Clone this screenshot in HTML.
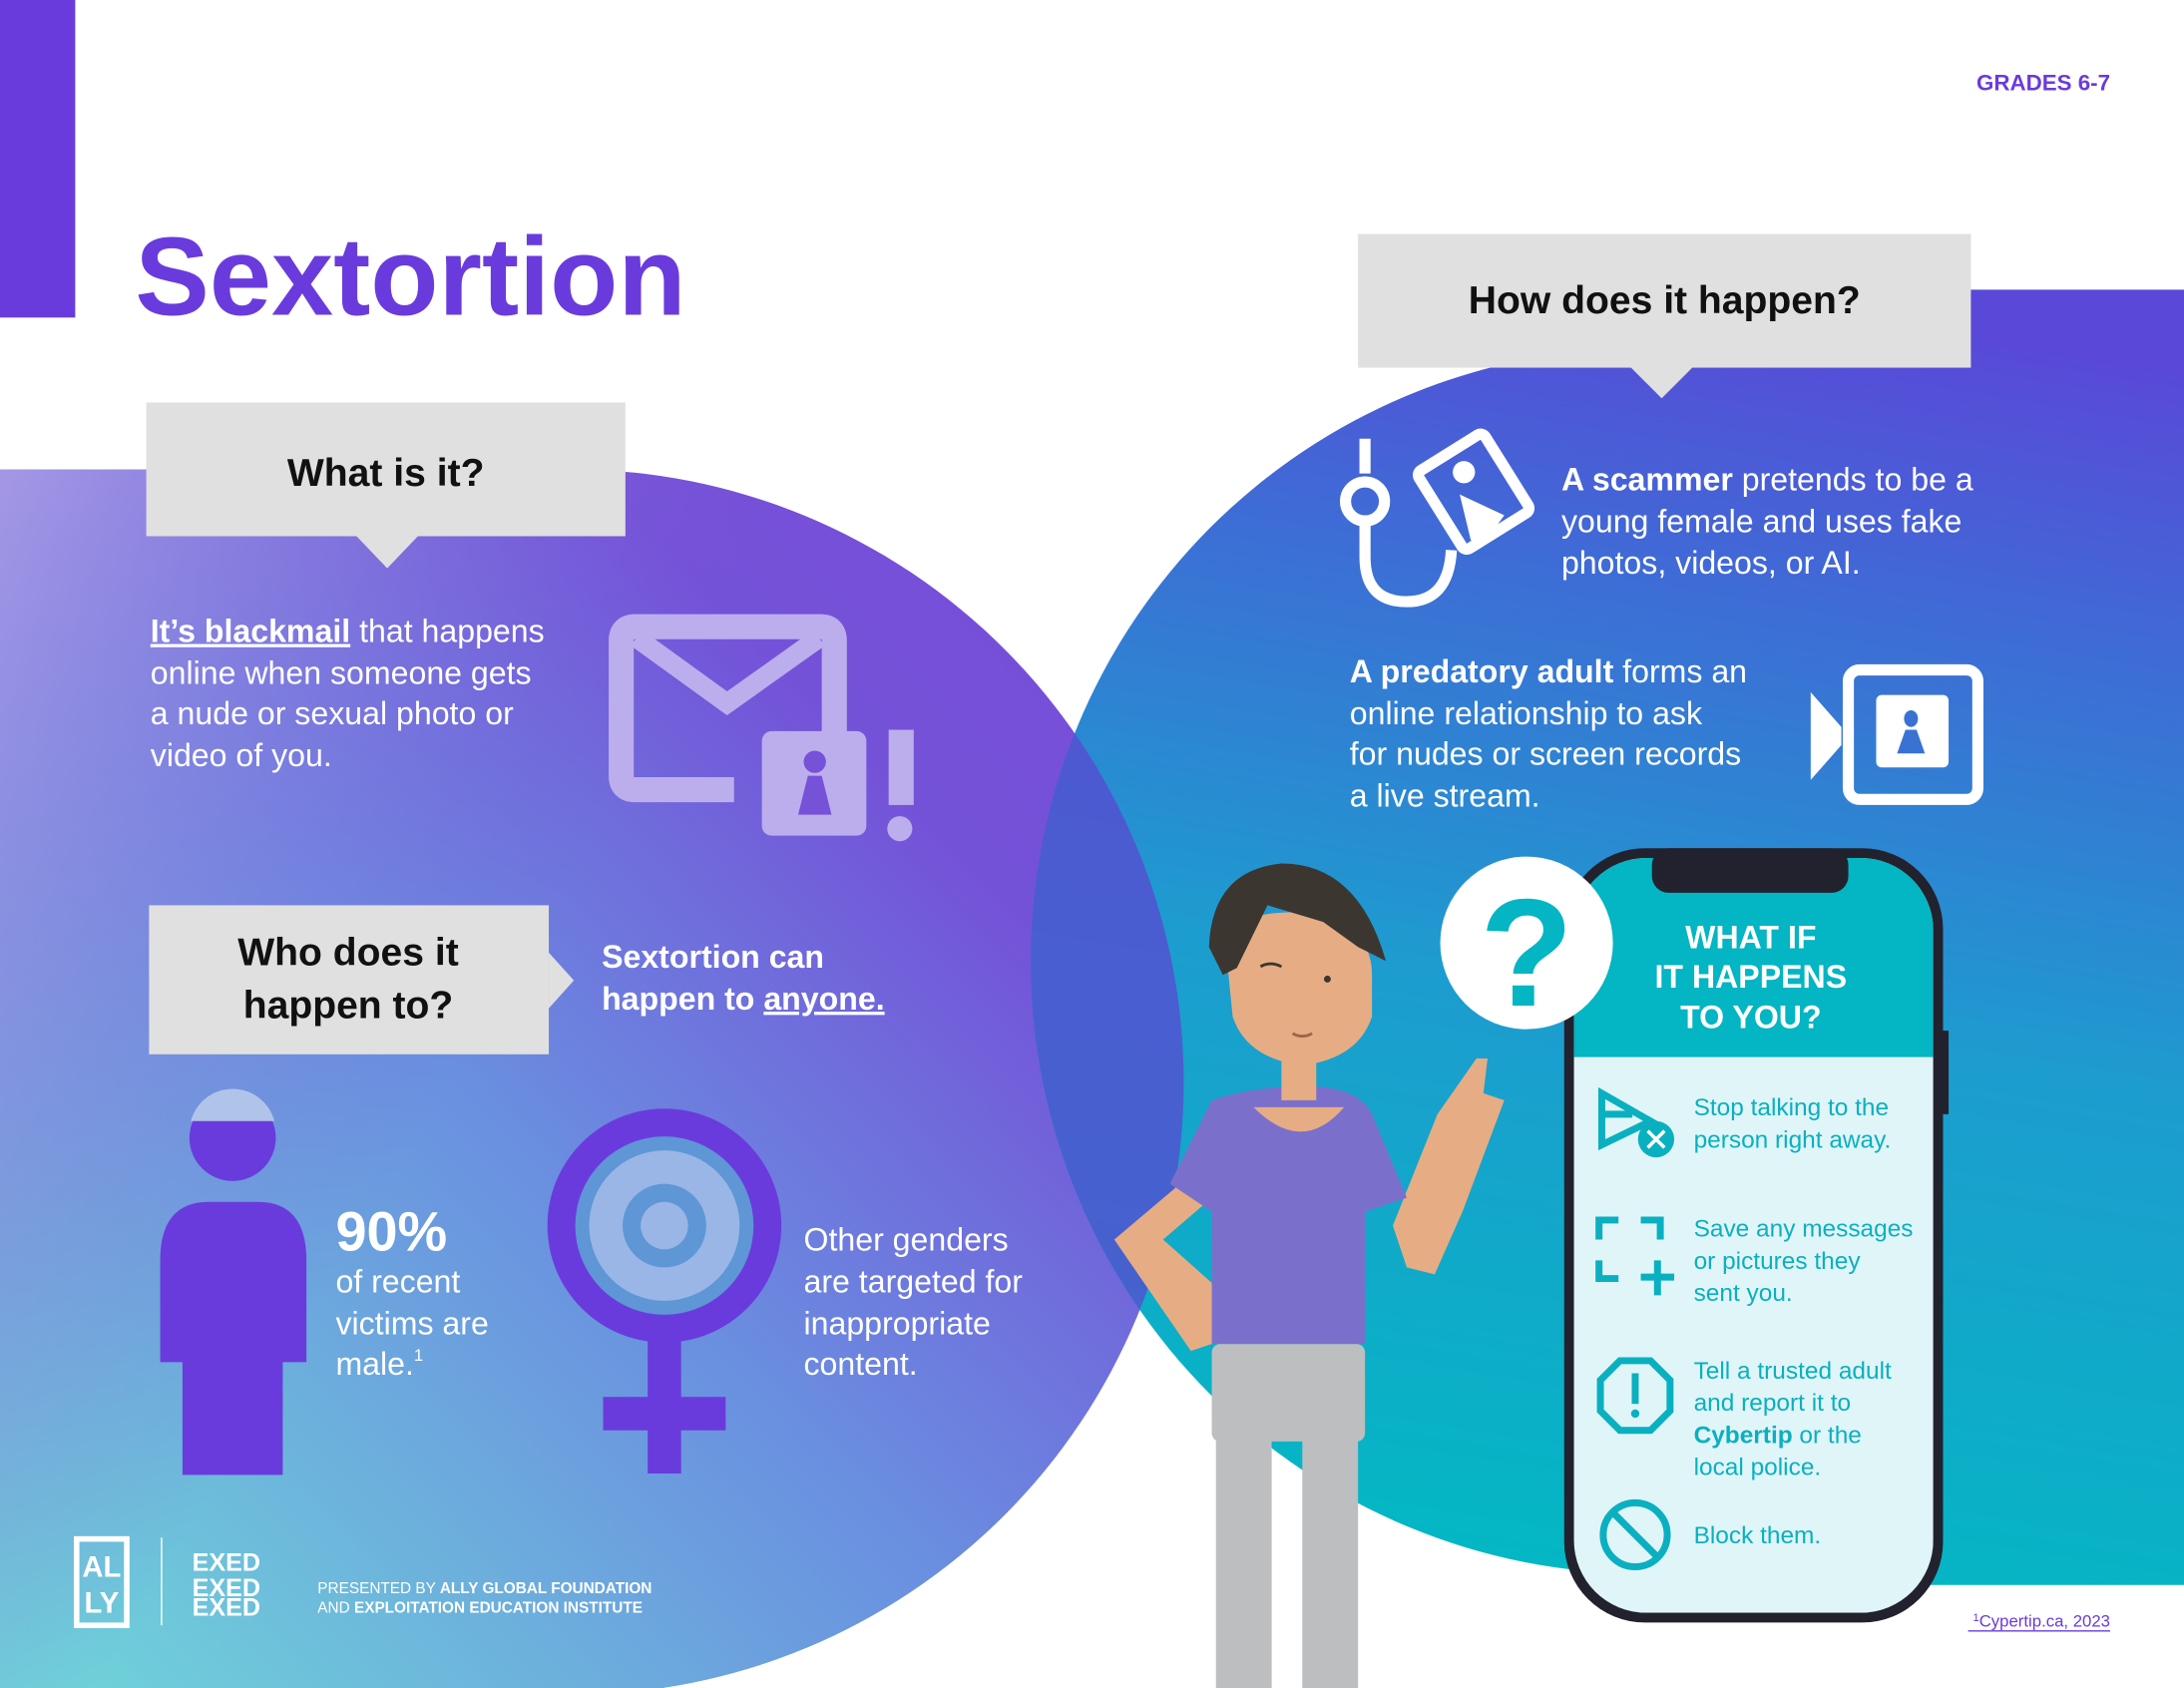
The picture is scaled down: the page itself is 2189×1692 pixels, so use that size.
<!DOCTYPE html>
<html><head><meta charset="utf-8"><style>
html,body{margin:0;padding:0;background:#fff;}
svg{display:block;font-family:"Liberation Sans",Arial,sans-serif;}
</style></head><body>
<svg width="2189" height="1692" viewBox="0 0 1568 1212" xmlns="http://www.w3.org/2000/svg">
<defs>
<linearGradient id="gl" x1="0" y1="1" x2="1" y2="0">
<stop offset="0" stop-color="#6fd8d8"/><stop offset="0.45" stop-color="#6a8ee0"/><stop offset="0.75" stop-color="#7452d8"/><stop offset="1" stop-color="#7a4bd8"/>
</linearGradient>
<linearGradient id="glt" x1="0" y1="0" x2="1" y2="0.6">
<stop offset="0" stop-color="#aa9ae6" stop-opacity="0.9"/><stop offset="0.5" stop-color="#7a55d8" stop-opacity="0"/>
</linearGradient>
<linearGradient id="gr" x1="0.45" y1="1" x2="0.6" y2="0">
<stop offset="0" stop-color="#03b8c3"/><stop offset="0.45" stop-color="#1d9ccf"/><stop offset="0.8" stop-color="#4168d6"/><stop offset="1" stop-color="#5a48d8"/>
</linearGradient>
<clipPath id="cr"><circle cx="1180" cy="690" r="440"/></clipPath>
</defs>

<rect x="0" y="0" width="54" height="228" fill="#6a3bdc"/>

<g>
<path d="M0 337 L410 337 A440 440 0 0 1 410 1217 L0 1217 Z" fill="url(#gl)"/>
<path d="M0 337 L410 337 A440 440 0 0 1 410 1217 L0 1217 Z" fill="url(#glt)"/>
</g>
<g>
<path d="M1180 250 L1180 208 L1568 208 L1568 1138 L1180 1138 L1180 1130 A440 440 0 0 1 1180 250 Z" fill="url(#gr)"/>
<path d="M0 337 L410 337 A440 440 0 0 1 410 1217 L0 1217 Z" fill="#5a48d0" opacity="0.75" clip-path="url(#cr)"/>
</g>

<text x="1515" y="65" text-anchor="end" font-size="16" font-weight="bold" fill="#6a3bdc">GRADES 6-7</text>
<text x="97" y="226" font-size="80" font-weight="bold" fill="#6a3bdc">Sextortion</text>

<g>
<rect x="105" y="289" width="344" height="96" fill="#e0e0e0"/>
<polygon points="256,385 300,385 278,408" fill="#e0e0e0"/>
<text x="277" y="349" text-anchor="middle" font-size="28" font-weight="bold" fill="#111">What is it?</text>
</g>
<g font-size="23" fill="#fff">
<text x="108" y="461"><tspan font-weight="bold" text-decoration="underline">It’s blackmail</tspan> that happens</text>
<text x="108" y="491">online when someone gets</text>
<text x="108" y="520">a nude or sexual photo or</text>
<text x="108" y="550">video of you.</text>
</g>
<g fill="#bcaeec">
<path d="M599 554 V460 Q599 450 589 450 H456 Q446 450 446 460 V557 Q446 567 456 567 H527" fill="none" stroke="#bcaeec" stroke-width="18"/>
<path d="M457 458 L522 505 L588 458" fill="none" stroke="#bcaeec" stroke-width="14"/>
<rect x="547" y="525" width="75" height="75" rx="7"/>
<circle cx="585" cy="547" r="8" fill="#7652d8"/>
<polygon points="580,557 590,557 597,585 573,585" fill="#7652d8"/>
<rect x="638" y="524" width="18" height="54"/>
<circle cx="646" cy="595" r="9"/>
</g>

<g>
<rect x="107" y="650" width="287" height="107" fill="#e0e0e0"/>
<polygon points="394,684 412,704 394,724" fill="#e0e0e0"/>
<text x="250" y="693" text-anchor="middle" font-size="28" font-weight="bold" fill="#111">Who does it</text>
<text x="250" y="731" text-anchor="middle" font-size="28" font-weight="bold" fill="#111">happen to?</text>
</g>
<g font-size="23" font-weight="bold" fill="#fff">
<text x="432" y="695">Sextortion can</text>
<text x="432" y="725">happen to <tspan text-decoration="underline">anyone.</tspan></text>
</g>

<g fill="#6a3bdc">
<ellipse cx="167" cy="817" rx="31" ry="31"/>
<path d="M137 805 A31 31 0 0 1 197 805 Z" fill="#b0c4ea"/>
<path d="M115 978 V905 Q115 863 150 863 H185 Q220 863 220 905 V978 Z"/>
<rect x="131" y="975" width="72" height="84"/>
</g>
<g fill="#fff">
<text x="241" y="898" font-size="40" font-weight="bold">90%</text>
<text x="241" y="928" font-size="23">of recent</text>
<text x="241" y="958" font-size="23">victims are</text>
<text x="241" y="987" font-size="23">male.<tspan font-size="12" dy="-10">1</tspan></text>
</g>
<g>
<circle cx="477" cy="880" r="84" fill="#6a3bdc"/>
<circle cx="477" cy="880" r="64" fill="#5e96d6"/>
<circle cx="477" cy="880" r="54" fill="#9ab6e6"/>
<circle cx="477" cy="880" r="30" fill="#5e96d6"/>
<circle cx="477" cy="880" r="17" fill="#9ab6e6"/>
<rect x="465" y="960" width="24" height="98" fill="#6a3bdc"/>
<rect x="433" y="1003" width="88" height="24" fill="#6a3bdc"/>
</g>
<g fill="#fff" font-size="23">
<text x="577" y="898">Other genders</text>
<text x="577" y="928">are targeted for</text>
<text x="577" y="958">inappropriate</text>
<text x="577" y="987">content.</text>
</g>

<g>
<rect x="55" y="1105" width="36" height="62" fill="none" stroke="#fff" stroke-width="4"/>
<text x="73" y="1132" text-anchor="middle" font-size="21" font-weight="bold" fill="#fff">AL</text>
<text x="73" y="1158" text-anchor="middle" font-size="21" font-weight="bold" fill="#fff">LY</text>
</g>
<line x1="116" y1="1104" x2="116" y2="1167" stroke="#fff" stroke-width="1"/>
<g fill="#fff" font-weight="bold" font-size="18">
<text x="138" y="1128">EXED</text><text x="138" y="1146">EXED</text><text x="138" y="1160">EXED</text>
</g>
<g fill="#fff" font-size="11">
<text x="228" y="1144">PRESENTED BY <tspan font-weight="bold">ALLY GLOBAL FOUNDATION</tspan></text>
<text x="228" y="1158">AND <tspan font-weight="bold">EXPLOITATION EDUCATION INSTITUTE</tspan></text>
</g>

<g>
<rect x="975" y="168" width="440" height="96" fill="#e0e0e0"/>
<polygon points="1171,264 1215,264 1193,286" fill="#e0e0e0"/>
<text x="1195" y="225" text-anchor="middle" font-size="28" font-weight="bold" fill="#111">How does it happen?</text>
</g>
<g fill="none" stroke="#fff" stroke-width="8">
<line x1="980" y1="315" x2="980" y2="340"/>
<circle cx="980" cy="360" r="14"/>
<path d="M980 376 V400 Q980 432 1010 432 Q1040 432 1042 395"/>
<rect x="1030" y="320" width="56" height="66" rx="4" transform="rotate(-32 1058 353)"/>
<circle cx="1051" cy="339" r="8" fill="#fff" stroke="none"/>
<polygon points="1048,355 1080,370 1067,388 1056,388" fill="#fff" stroke="none"/>
</g>
<g fill="#fff" font-size="23">
<text x="1121" y="352"><tspan font-weight="bold">A scammer</tspan> pretends to be a</text>
<text x="1121" y="382">young female and uses fake</text>
<text x="1121" y="412">photos, videos, or AI.</text>
</g>
<g fill="#fff" font-size="23">
<text x="969" y="490"><tspan font-weight="bold">A predatory adult</tspan> forms an</text>
<text x="969" y="520">online relationship to ask</text>
<text x="969" y="549">for nudes or screen records</text>
<text x="969" y="579">a live stream.</text>
</g>
<g>
<polygon points="1300,497 1322,522 1322,535 1300,560" fill="#fff"/>
<rect x="1327" y="481" width="93" height="93" rx="8" fill="none" stroke="#fff" stroke-width="8"/>
<rect x="1347" y="499" width="52" height="52" rx="4" fill="#fff"/>
<ellipse cx="1372" cy="516" rx="5" ry="6" fill="#3a72d4"/>
<polygon points="1368,524 1376,524 1382,541 1362,541" fill="#3a72d4"/>
</g>

<g>
<rect x="873" y="1017" width="40" height="200" fill="#bdbec0"/>
<rect x="935" y="1017" width="40" height="200" fill="#bdbec0"/>
<rect x="870" y="965" width="110" height="70" rx="6" fill="#bdbec0"/>
<path d="M865 835 L800 890 L855 970 L870 965 L880 930 L835 890 L870 860 Z" fill="#e6ad84"/>
<path d="M1000 880 L1032 800 L1060 760 L1068 760 L1065 785 L1080 790 L1050 870 L1030 915 L1010 910 Z" fill="#e6ad84"/>
<path d="M870 790 Q900 780 938 780 Q975 780 985 800 L1010 860 L980 870 L980 965 L870 965 L870 870 L840 850 Z" fill="#7a70cc"/>
<rect x="920" y="740" width="25" height="50" fill="#e6ad84"/>
<path d="M900 795 Q935 830 965 795 Z" fill="#e6ad84"/>
<path d="M880 680 Q880 655 930 655 Q985 660 985 700 L985 730 Q975 760 935 765 Q895 760 885 730 Z" fill="#e6ad84"/>
<path d="M868 680 Q870 625 920 620 Q975 620 995 690 L975 680 L950 662 L910 650 L888 695 L878 700 Z" fill="#3c3631"/>
<path d="M905 694 Q912 690 920 694" fill="none" stroke="#3c3631" stroke-width="2"/>
<circle cx="953" cy="703" r="2.5" fill="#3c3631"/>
<path d="M928 742 Q935 746 942 742" fill="none" stroke="#a0624a" stroke-width="2"/>
</g>

<g>
<rect x="1393" y="740" width="6" height="60" fill="#22222e"/>
<rect x="1123" y="609" width="272" height="556" rx="58" fill="#22222e"/>
<clipPath id="ps"><rect x="1130" y="616" width="258" height="542" rx="52"/></clipPath>
<g clip-path="url(#ps)">
<rect x="1130" y="616" width="258" height="542" fill="#e0f5f8"/>
<rect x="1130" y="616" width="258" height="143" fill="#04b5c3"/>
</g>
<rect x="1186" y="609" width="141" height="32" rx="12" fill="#22222e"/>
<g fill="#fff" font-size="23" font-weight="bold" text-anchor="middle">
<text x="1257" y="681">WHAT IF</text>
<text x="1257" y="709">IT HAPPENS</text>
<text x="1257" y="738">TO YOU?</text>
</g>
<g fill="#0ab0c0" font-size="17.5">
<text x="1216" y="801">Stop talking to the<tspan x="1216" dy="23">person right away.</tspan></text>
<text x="1216" y="888">Save any messages<tspan x="1216" dy="23">or pictures they</tspan><tspan x="1216" dy="23">sent you.</tspan></text>
<text x="1216" y="990">Tell a trusted adult<tspan x="1216" dy="23">and report it to</tspan><tspan x="1216" dy="23" font-weight="bold">Cybertip</tspan><tspan> or the</tspan><tspan x="1216" dy="23">local police.</tspan></text>
<text x="1216" y="1108">Block them.</text>
</g>
<g fill="none" stroke="#0ab0c0" stroke-width="5">
<path d="M1150 785 L1150 822 L1185 805 Z M1150 800 L1172 800"/>
<path d="M1148 890 V876 H1162 M1178 876 H1192 V890 M1148 905 V918 H1162 M1190 905 V930 M1178 917 H1202" />
<polygon points="1163,977 1185,977 1199,991 1199,1013 1185,1027 1163,1027 1149,1013 1149,991"/>
<line x1="1174" y1="986" x2="1174" y2="1008"/>
<circle cx="1174" cy="1102" r="23"/>
<line x1="1158" y1="1086" x2="1190" y2="1118"/>
</g>
<circle cx="1189" cy="818" r="13" fill="#0ab0c0"/>
<path d="M1183 812 L1195 824 M1195 812 L1183 824" stroke="#fff" stroke-width="2.5"/>
<circle cx="1174" cy="1015" r="3" fill="#0ab0c0"/>
</g>

<g>
<circle cx="1096" cy="677" r="62" fill="#fff"/>
<text x="1096" y="722" text-anchor="middle" font-size="110" font-weight="bold" fill="#04b5c3">?</text>
</g>

<text x="1515" y="1168" text-anchor="end" font-size="12" fill="#6a3bdc"><tspan font-size="8" dy="-4">1</tspan><tspan dy="4">Cypertip.ca, 2023</tspan></text>
<line x1="1413" y1="1171" x2="1515" y2="1171" stroke="#6a3bdc" stroke-width="1"/>
</svg>
</body></html>
